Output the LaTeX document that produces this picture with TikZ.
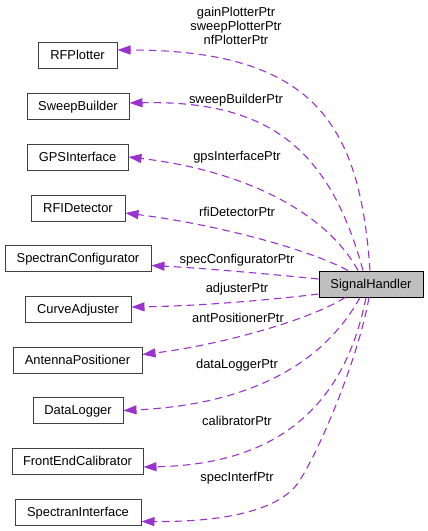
\documentclass[tikz,border=0pt]{standalone}
\usepackage{fontspec}
\setmainfont{Liberation Sans}
\usetikzlibrary{arrows.meta}
\definecolor{edgecol}{HTML}{9A32CD}
\definecolor{boxline}{HTML}{404040}
\begin{document}
\begin{tikzpicture}[x=1pt,y=-1pt,
  cls/.style={draw=boxline, fill=white, line width=1pt, minimum height=26pt, inner sep=0pt,
    text height=10pt, text depth=2pt, font=\fontsize{12.9}{14}\selectfont},
  mainbox/.style={cls, draw=black, fill=black!25},
  dep/.style={draw=edgecol, line width=1.1pt, dash pattern=on 7.5pt off 5pt,
    -{Triangle[length=13pt,width=9pt,fill=edgecol]}},
  lbl/.style={font=\fontsize{12.9}{14}\selectfont, inner sep=0pt, align=center}]
\useasboundingbox (0,0) rectangle (428,531);

\node[mainbox, minimum width=104pt] (sh) at (371,284) {SignalHandler};

\node[cls, minimum width=79pt]  (rf)  at (77.5,55)  {RFPlotter};
\node[cls, minimum width=102pt] (sb)  at (78,106)   {SweepBuilder};
\node[cls, minimum width=101pt] (gps) at (77.5,157) {GPSInterface};
\node[cls, minimum width=94pt]  (rfi) at (78,208.5) {RFIDetector};
\node[cls, minimum width=146pt] (sc)  at (78,258.5) {SpectranConfigurator};
\node[cls, minimum width=106pt] (ca)  at (78,309.5) {CurveAdjuster};
\node[cls, minimum width=129pt] (ap)  at (77.5,360.5) {AntennaPositioner};
\node[cls, minimum width=90pt]  (dl)  at (78,410.5) {DataLogger};
\node[cls, minimum width=131pt] (fe)  at (77.5,461) {FrontEndCalibrator};
\node[cls, minimum width=126pt] (si)  at (78,512)   {SpectranInterface};

\draw[dep] ([xshift=-1pt]sh.north) .. controls (360,130) and (320,50) .. ([yshift=5pt]rf.east);
\draw[dep] ([xshift=-8pt]sh.north) .. controls (330,150) and (270,100) .. ([yshift=3pt]sb.east);
\draw[dep] ([xshift=-13pt]sh.north) .. controls (325,210) and (240,170) .. (gps.east);
\draw[dep] ([xshift=-23pt]sh.north) .. controls (310,250) and (220,225) .. ([yshift=-4.5pt]rfi.east);
\draw[dep] ([yshift=5pt]sh.west) .. controls (270,274) and (200,268) .. ([yshift=-7pt]sc.east);
\draw[dep] ([yshift=-10pt]sh.west) .. controls (270,300) and (200,306) .. ([yshift=2.5pt]ca.east);
\draw[dep] ([xshift=-26pt]sh.south) .. controls (310,320) and (220,345) .. ([yshift=6pt]ap.east);
\draw[dep] ([xshift=-11pt]sh.south) .. controls (320,370) and (240,405) .. (dl.east);
\draw[dep] ([xshift=-5pt]sh.south) .. controls (340,430) and (250,465) .. ([yshift=-6pt]fe.east);
\draw[dep] ([xshift=-2pt]sh.south) .. controls (360,350) and (325,440) .. (300,480)
   .. controls (285,505) and (240,522) .. ([yshift=-9.5pt]si.east);

\node[lbl] (l1)  at (236,26)  {gainPlotterPtr\\sweepPlotterPtr\\nfPlotterPtr};
\node[lbl] (l2)  at (236,100) {sweepBuilderPtr};
\node[lbl] (l3)  at (237,157) {gpsInterfacePtr};
\node[lbl] (l4)  at (237,212) {rfiDetectorPtr};
\node[lbl] (l5)  at (237,260) {specConfiguratorPtr};
\node[lbl] (l6)  at (237,289) {adjusterPtr};
\node[lbl] (l7)  at (238,318) {antPositionerPtr};
\node[lbl] (l8)  at (237,365) {dataLoggerPtr};
\node[lbl] (l9)  at (237,421) {calibratorPtr};
\node[lbl] (l10) at (237,478) {specInterfPtr};
\end{tikzpicture}
\end{document}
